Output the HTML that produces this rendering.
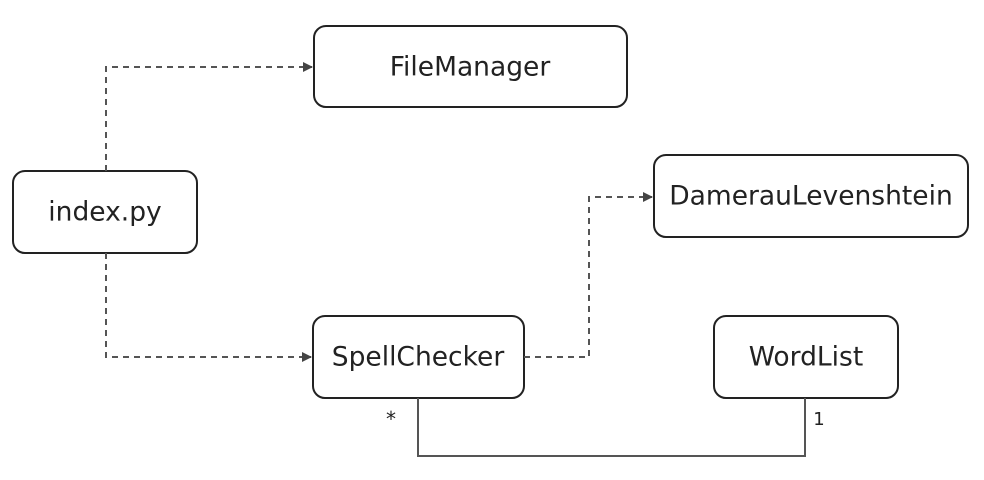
<!DOCTYPE html>
<html><head><style>body{margin:0;background:#fff}</style></head><body>
<svg width="984" height="475" xmlns="http://www.w3.org/2000/svg" font-family="'DejaVu Sans', 'Liberation Sans', sans-serif">
<defs><marker id="a" markerWidth="10" markerHeight="10" refX="9" refY="5" orient="auto" markerUnits="userSpaceOnUse"><path d="M0,0 L10,5 L0,10 Z" fill="#444"/></marker></defs>
<g fill="#fff" stroke="#222" stroke-width="2">
<rect x="314" y="26" width="313" height="81" rx="12"/>
<rect x="13" y="171" width="184" height="82" rx="12"/>
<rect x="654" y="155" width="314" height="82" rx="12"/>
<rect x="313" y="316" width="211" height="82" rx="12"/>
<rect x="714" y="316" width="184" height="82" rx="12"/>
</g>
<g fill="none" stroke="#555" stroke-width="2" stroke-dasharray="6,5">
<path d="M106,171 V67 H312" marker-end="url(#a)"/>
<path d="M106,253 V357 H311" marker-end="url(#a)"/>
<path d="M524,357 H589 V197 H652" marker-end="url(#a)"/>
</g>
<path d="M418,398 V456 H805 V398" fill="none" stroke="#555" stroke-width="2"/>
<g fill="#222" font-size="26.5" text-anchor="middle" dominant-baseline="central">
<text x="470" y="67">FileManager</text>
<text x="105" y="212">index.py</text>
<text x="811" y="196">DamerauLevenshtein</text>
<text x="418" y="357">SpellChecker</text>
<text x="806" y="357">WordList</text>
</g>
<text x="391" y="426" font-size="20" fill="#222" text-anchor="middle">*</text>
<text x="819" y="425" font-size="18" fill="#222" text-anchor="middle">1</text>
</svg>
</body></html>
